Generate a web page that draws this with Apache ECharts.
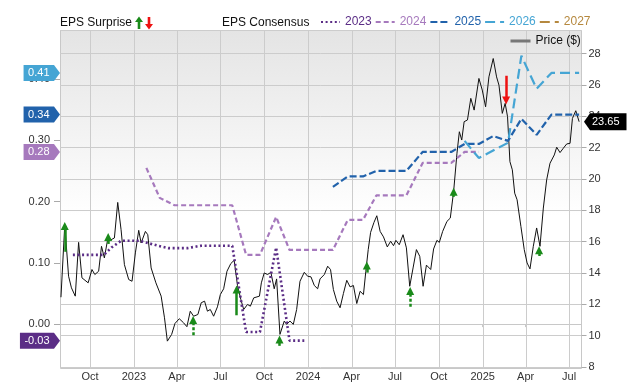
<!DOCTYPE html>
<html><head><meta charset="utf-8">
<script src="https://cdn.jsdelivr.net/npm/echarts@6/dist/echarts.min.js"></script>
<style>html,body{margin:0;padding:0;background:#fff}#c{width:640px;height:382px}</style>
</head><body><div id="c"></div>
<script>
const FONT = '"Liberation Sans", Arial, sans-serif';

const priceData = [
['2022-08-01',12.45],['2022-08-09',17.08],['2022-08-17',13.79],['2022-08-23',13.05],['2022-08-31',12.52],
['2022-09-07',15.95],['2022-09-14',13.69],['2022-09-27',13.37],['2022-10-05',14.22],['2022-10-11',13.90],
['2022-10-19',14.11],['2022-10-25',15.70],['2022-10-31',14.96],['2022-11-08',16.33],['2022-11-14',16.12],
['2022-11-21',16.23],['2022-11-28',18.50],['2022-12-05',16.76],['2022-12-12',14.53],['2022-12-21',13.58],
['2022-12-28',13.47],['2023-01-04',15.28],['2023-01-11',16.72],['2023-01-16',15.91],['2023-01-25',16.65],
['2023-01-30',16.44],['2023-02-06',14.32],['2023-02-16',13.37],['2023-02-27',12.52],['2023-03-06',11.14],
['2023-03-12',9.65],['2023-03-21',10.08],['2023-03-28',10.78],['2023-04-06',11.08],['2023-04-15',10.82],
['2023-04-22',10.57],['2023-04-29',11.56],['2023-05-06',11.24],['2023-05-15',11.35],['2023-05-22',12.10],
['2023-05-29',12.20],['2023-06-04',11.56],['2023-06-10',11.67],['2023-06-17',11.24],['2023-06-25',11.84],
['2023-07-01',12.62],['2023-07-08',12.99],['2023-07-15',14.11],['2023-07-23',14.60],['2023-07-30',14.81],
['2023-08-06',13.20],['2023-08-13',12.31],['2023-08-19',11.67],['2023-08-27',11.99],['2023-09-02',11.88],
['2023-09-09',12.41],['2023-09-13',12.31],['2023-09-21',12.52],['2023-09-25',13.37],['2023-10-01',14.00],
['2023-10-08',13.90],['2023-10-15',14.04],['2023-10-22',12.99],['2023-10-27',13.62],['2023-11-03',10.08],
['2023-11-12',10.93],['2023-11-17',10.72],['2023-11-24',10.93],['2023-12-01',10.72],['2023-12-08',11.67],
['2023-12-15',13.47],['2023-12-24',14.04],['2023-12-31',13.79],['2024-01-07',13.75],['2024-01-14',13.20],
['2024-01-21',12.99],['2024-01-26',13.62],['2024-02-04',13.90],['2024-02-11',14.43],['2024-02-17',14.22],
['2024-02-23',12.94],['2024-03-01',12.20],['2024-03-08',11.78],['2024-03-15',12.69],['2024-03-22',13.53],
['2024-03-29',13.11],['2024-04-05',13.20],['2024-04-12',12.05],['2024-04-19',12.83],['2024-04-26',12.62],
['2024-05-01',14.11],['2024-05-06',15.49],['2024-05-11',16.59],['2024-05-18',17.22],['2024-05-24',17.65],
['2024-05-31',16.65],['2024-06-07',16.30],['2024-06-15',15.66],['2024-06-22',16.02],['2024-06-28',15.74],
['2024-07-03',16.08],['2024-07-10',15.80],['2024-07-18',16.44],['2024-07-25',15.60],['2024-08-01',13.15],
['2024-08-08',14.32],['2024-08-15',15.49],['2024-08-22',15.06],['2024-08-29',13.15],['2024-09-05',14.50],
['2024-09-14',14.22],['2024-09-20',15.53],['2024-09-27',16.08],['2024-10-02',15.95],['2024-10-09',16.65],
['2024-10-18',17.29],['2024-10-25',17.50],['2024-11-01',19.20],['2024-11-08',21.64],['2024-11-13',23.01],
['2024-11-18',22.48],['2024-11-23',23.65],['2024-11-30',23.76],['2024-12-07',25.14],['2024-12-14',24.39],
['2024-12-24',26.41],['2024-12-31',25.67],['2025-01-07',24.60],['2025-01-14',26.51],['2025-01-23',27.68],
['2025-01-30',26.51],['2025-02-04',25.98],['2025-02-11',24.18],['2025-02-17',24.82],['2025-02-22',23.97],
['2025-02-27',21.10],['2025-03-04',20.58],['2025-03-09',19.09],['2025-03-14',18.67],['2025-03-22',16.97],
['2025-03-29',15.49],['2025-04-04',14.64],['2025-04-10',14.26],['2025-04-17',15.70],['2025-04-24',16.87],
['2025-05-01',15.70],['2025-05-08',18.14],['2025-05-15',19.94],['2025-05-22',21.00],['2025-05-31',21.53],
['2025-06-05',22.02],['2025-06-12',21.68],['2025-06-19',21.96],['2025-06-26',22.23],['2025-07-03',22.27],
['2025-07-08',23.86],['2025-07-15',24.35],['2025-07-22',23.65]
];

const eps2023 = [['2022-08-26',0.113],['2022-10-30',0.113],['2022-11-15',0.125],['2022-12-05',0.136],
['2023-01-13',0.136],['2023-02-20',0.128],['2023-03-14',0.124],['2023-04-23',0.124],['2023-05-22',0.128],
['2023-07-26',0.128],['2023-08-24',-0.013],['2023-09-22',-0.013],['2023-10-26',0.125],['2023-11-23',-0.027],
['2023-12-24',-0.027]];
const eps2024 = [['2023-01-27',0.255],['2023-02-24',0.206],['2023-03-27',0.194],['2023-07-26',0.194],
['2023-08-24',0.113],['2023-09-22',0.113],['2023-10-26',0.175],['2023-11-23',0.121],['2024-02-22',0.121],
['2024-03-24',0.170],['2024-04-25',0.170],['2024-05-23',0.210],['2024-07-25',0.210],['2024-08-28',0.263],
['2024-10-27',0.263],['2024-11-24',0.281],['2024-12-24',0.281]];
const eps2025 = [['2024-02-22',0.224],['2024-03-24',0.241],['2024-04-25',0.241],['2024-05-23',0.250],
['2024-07-25',0.250],['2024-08-28',0.281],['2024-10-27',0.281],['2024-11-24',0.294],['2024-12-24',0.294],
['2025-01-23',0.307],['2025-02-23',0.299],['2025-03-23',0.335],['2025-04-24',0.309],['2025-05-25',0.342],
['2025-07-22',0.342]];
const eps2026 = [['2024-11-24',0.299],['2024-12-24',0.271],['2025-02-23',0.296],['2025-03-23',0.438],
['2025-04-24',0.384],['2025-05-25',0.410],['2025-07-22',0.410]];
const eps2027 = [];

// EPS surprise arrows: [date, price at tail, price at head, dashed?, up?]
const surprises = [
['2022-08-09',15.35,17.00,false,true],
['2022-11-08',15.85,16.30,false,true],
['2023-05-05',10.02,11.00,true,true],
['2023-08-04',11.30,12.95,false,true],
['2023-11-02',9.35,9.75,false,true],
['2024-05-03',14.02,14.48,false,true],
['2024-08-02',11.85,12.85,true,true],
['2024-11-01',18.85,19.18,false,true],
['2025-04-29',15.08,15.45,true,true],
['2025-02-19',26.58,25.00,false,false]
];

const xTicks = ['2022-10-01','2023-01-01','2023-04-01','2023-07-01','2023-10-01','2024-01-01',
'2024-04-01','2024-07-01','2024-10-01','2025-01-01','2025-04-01','2025-07-01'];
const monthNames = ['Jan','Feb','Mar','Apr','May','Jun','Jul','Aug','Sep','Oct','Nov','Dec'];
const epsTicks = [0, 0.1, 0.2, 0.3, 0.4];
const years = ['2023','2024','2025','2026','2027'];
const yearColors = ['#5b2d86','#a679bd','#2162ab','#45a5d4','#b5883e'];
const yearDash = [[2,2.6],[5,3],[7,3],[10,5],[10,5]];
const yearWidth = [2.6,2.2,2.2,2.2,2.2];
const epsSeriesData = [eps2023, eps2024, eps2025, eps2026, eps2027];

const T = s => echarts.time.parse(s).getTime();
const toXY = arr => arr.map(p => [T(p[0]), p[1]]);
const ctx = document.createElement('canvas').getContext('2d');
function tw(t, size){ ctx.font = size + 'px ' + FONT; return ctx.measureText(t).width; }

const chart = echarts.init(document.getElementById('c'), null, {renderer:'canvas'});

const epsSeries = years.map((y, i) => ({
  name: y, type: 'line', yAxisIndex: 0, symbol: 'none', showSymbol: false,
  data: toXY(epsSeriesData[i]), color: yearColors[i], z: 4,
  lineStyle: {color: yearColors[i], width: yearWidth[i], type: yearDash[i]}
}));

const badgeData = [];
epsSeriesData.forEach((d, i) => { if (d.length) { const l = d[d.length-1]; badgeData.push([T(l[0]), l[1], i]); } });
const lastPrice = priceData[priceData.length-1];
const tickVals = xTicks.map(T);

const GRID = {left: 60, right: 58.5, top: 30, bottom: 13.3};
const gx0 = GRID.left, gy0 = GRID.top, gx1 = 640 - GRID.right, gy1 = 382 - GRID.bottom;

const baseGraphic = [
  {id: 'bg', type:'rect', z: -5, silent: true,
    shape:{x: gx0 + 0.5, y: gy0 + 0.5, width: Math.round(gx1 - gx0) - 1, height: Math.round(gy1 - gy0) - 1},
    style:{fill: new echarts.graphic.LinearGradient(0,0,0,1,[{offset:0,color:'#e4e4e4'},{offset:0.55,color:'#ffffff'},{offset:1,color:'#ffffff'}]),
      stroke: '#c8c8c8', lineWidth: 1}},
  {id: 't1', type:'text', left: 60, top: 17, style:{text:'EPS Surprise', font:'12px ' + FONT, fill:'#111'}},
  {id: 'a1', type:'polygon', shape:{points:[[139,16.5],[143,22],[140.3,22],[140.3,29],[137.7,29],[137.7,22],[135,22]]}, style:{fill:'#1a8a1a'}},
  {id: 'a2', type:'polygon', shape:{points:[[149,29.5],[153,24],[150.3,24],[150.3,17],[147.7,17],[147.7,24],[145,24]]}, style:{fill:'#ee1111'}},
  {id: 't2', type:'text', left: 222, top: 17, style:{text:'EPS Consensus', font:'12px ' + FONT, fill:'#111'}}
];

const option = {
  animation: false,
  grid: Object.assign({show: false}, GRID),
  legend: [{
    left: 320, top: 16, padding: 0, itemWidth: 19, itemHeight: 10, itemGap: 3, selectedMode: false,
    data: years.map((y, i) => ({name: y, textStyle: {color: yearColors[i]}})),
    textStyle: {fontSize: 12, fontFamily: FONT}, itemStyle: {opacity: 0}
  }, {
    left: 509, top: 35, padding: 0, itemWidth: 20, itemHeight: 10, selectedMode: false,
    data: ['Price ($)'], textStyle: {fontSize: 12, fontFamily: FONT, color: '#111'},
    lineStyle: {color: '#777', width: 3}, itemStyle: {opacity: 0}
  }],
  graphic: baseGraphic,
  xAxis: {
    type: 'value', min: T('2022-07-30'), max: T('2025-07-27'),
    axisLine: {show: true, lineStyle: {color: '#c8c8c8'}},
    axisTick: {show: true, length: 3, customValues: tickVals, lineStyle: {color: '#c8c8c8'}},
    splitLine: {show: false},
    axisLabel: {customValues: tickVals, fontSize: 11, fontFamily: FONT, color: '#333', margin: 4,
      formatter: v => { const d = new Date(v); return d.getMonth() === 0 ? String(d.getFullYear()) : monthNames[d.getMonth()]; }}
  },
  yAxis: [{
    type: 'value', position: 'left', min: -0.07, max: 0.48,
    axisLine: {show: false}, splitLine: {show: false},
    axisTick: {show: true, length: 6, customValues: epsTicks, lineStyle: {color: '#aaa'}},
    axisLabel: {customValues: epsTicks, fontSize: 11, fontFamily: FONT, color: '#333', margin: 10,
      formatter: v => v.toFixed(2)}
  }, {
    type: 'value', position: 'right', min: 8, max: 29.5, interval: 2,
    axisLine: {show: false},
    splitLine: {show: true, lineStyle: {color: '#cccccc', width: 1}},
    axisTick: {show: true, length: 5, lineStyle: {color: '#aaa'}},
    axisLabel: {fontSize: 11, fontFamily: FONT, color: '#333', margin: 7, showMaxLabel: false}
  }],
  series: [
    {name: 'Price ($)', type: 'line', yAxisIndex: 1, data: toXY(priceData), symbol: 'none', showSymbol: false,
      color: '#111', lineStyle: {color: '#111', width: 1}, z: 3},
    ...epsSeries,
    {name: 'surprise', type: 'lines', coordinateSystem: 'cartesian2d', xAxisIndex: 0, yAxisIndex: 1, z: 6,
      symbol: ['none', 'triangle'], symbolSize: 8,
      data: surprises.map(s => ({
        coords: [[T(s[0]), s[1]], [T(s[0]), s[2]]],
        lineStyle: {color: s[4] ? '#1a8a1a' : '#ee1111', width: 2.5, type: s[3] ? [3,2] : 'solid', opacity: 1}
      }))},
    {name: 'epsBadges', type: 'custom', yAxisIndex: 0, z: 10, clip: false,
      data: badgeData, encode: {x: 0, y: 1},
      renderItem: (params, api) => {
        const v = api.value(1);
        const y = api.coord([api.value(0), v])[1];
        const x = params.coordSys.x;
        const text = v.toFixed(2);
        const w = tw(text, 11) + 9, tip = 6, h = 16;
        const c = yearColors[api.value(2)];
        return {type: 'group', children: [
          {type: 'polygon', shape: {points: [[x-tip-w, y-h/2],[x-tip, y-h/2],[x, y],[x-tip, y+h/2],[x-tip-w, y+h/2]]}, style: {fill: c}},
          {type: 'text', style: {text: text, x: x-tip-w+4.5, y: y+0.5, fill: '#fff', font: '11px ' + FONT, verticalAlign: 'middle', align: 'left'}}
        ]};
      }},
    {name: 'priceBadge', type: 'custom', yAxisIndex: 1, z: 10, clip: false,
      data: [[T(lastPrice[0]), lastPrice[1]]], encode: {x: 0, y: 1},
      renderItem: (params, api) => {
        const v = api.value(1);
        const y = api.coord([api.value(0), v])[1];
        const x = params.coordSys.x + params.coordSys.width + 2.5;
        const text = v.toFixed(2);
        const w = tw(text, 11) + 9, tip = 6, h = 17;
        return {type: 'group', children: [
          {type: 'polygon', shape: {points: [[x, y],[x+tip, y-h/2],[x+tip+w, y-h/2],[x+tip+w, y+h/2],[x+tip, y+h/2]]}, style: {fill: '#000'}},
          {type: 'text', style: {text: text, x: x+tip+2, y: y+0.5, fill: '#fff', font: '11px ' + FONT, verticalAlign: 'middle', align: 'left'}}
        ]};
      }}
  ]
};
chart.setOption(option);

// Quarter grid lines placed through the x axis scale (convertToPixel), snapped to whole pixels.
const gridLines = tickVals.map((v, i) => {
  const px = chart.convertToPixel({xAxisIndex: 0}, v);
  const x = Math.round(px) + 0.5;
  return {id: 'vg' + i, type: 'line', z: 1, silent: true,
    shape: {x1: x, y1: gy0, x2: x, y2: gy1},
    style: {stroke: '#cccccc', lineWidth: 1}};
});
chart.setOption({graphic: baseGraphic.concat(gridLines)});
</script>
</body></html>
